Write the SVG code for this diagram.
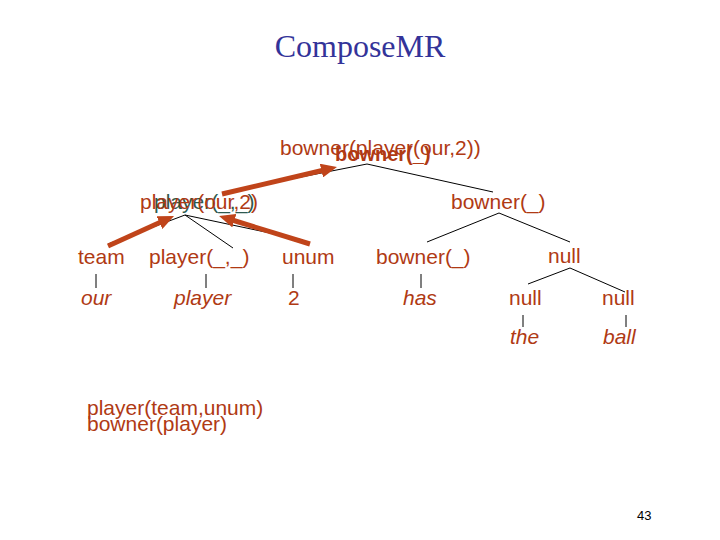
<svg xmlns="http://www.w3.org/2000/svg" width="720" height="540" viewBox="0 0 720 540">
<style>
.t{font-family:"Liberation Sans",Arial,sans-serif;font-size:21px;fill:#B03A14}
.b{font-weight:bold;font-size:20px}
.i{font-style:italic}
.ov{fill:#2E5A50}
.ln{stroke:#000;stroke-width:1;fill:none}
.ar{stroke:#C0441A;stroke-width:5;fill:none;marker-end:url(#ah)}
</style>
<defs>
<marker id="ah" markerUnits="userSpaceOnUse" markerWidth="16" markerHeight="14" viewBox="0 0 16 14" refX="4" refY="7" orient="auto">
<path d="M0,0 L16,7 L0,14 z" fill="#C0441A"/>
</marker>
</defs>
<rect width="720" height="540" fill="#fff"/>
<text x="360" y="57" text-anchor="middle" font-family="'Liberation Serif','Times New Roman',serif" font-size="32" fill="#333399">ComposeMR</text>
<g id="connectors">
<path class="ln" d="M367,164 L225,192 M367,164 L493,192"/>
<path class="ln" d="M185,215 L108,244 M185,215 L233,248 M185,215 L303,240"/>
<path class="ln" d="M499,213 L427,242 M499,213 L570,242"/>
<path class="ln" d="M570,268 L528,284 M570,268 L625,292"/>
<path class="ln" d="M96,274 V288 M206,274 V288 M293,274 V288 M421,274 V288 M523,315 V327 M626,315 V327"/>
</g>
<g id="root"><text class="t" x="280" y="155">bowner(player(our,2))</text><text class="t b" x="335" y="161">bowner(_)</text></g>
<g id="player"><text class="t ov" x="154" y="209">player(_,_)</text><text class="t" x="140" y="209">player(our,2)</text></g>
<g id="bowner1"><text class="t" x="451" y="209">bowner(_)</text></g>
<g id="team"><text class="t" x="78" y="264">team</text></g>
<g id="player2"><text class="t" x="149" y="264">player(_,_)</text></g>
<g id="unum"><text class="t" x="282" y="264">unum</text></g>
<g id="bowner2"><text class="t" x="376" y="264">bowner(_)</text></g>
<g id="null1"><text class="t" x="548" y="263">null</text></g>
<g id="our"><text class="t i" x="81" y="305">our</text></g>
<g id="playerw"><text class="t i" x="174" y="305">player</text></g>
<g id="two"><text class="t" x="288" y="305">2</text></g>
<g id="has"><text class="t i" x="403" y="305">has</text></g>
<g id="null2"><text class="t" x="509" y="305">null</text></g>
<g id="null3"><text class="t" x="602" y="305">null</text></g>
<g id="the"><text class="t i" x="510" y="344">the</text></g>
<g id="ball"><text class="t i" x="603" y="344">ball</text></g>
<g id="arrows">
<line class="ar" x1="108" y1="246" x2="163.1" y2="221"/>
<line class="ar" x1="310" y1="244" x2="230.5" y2="219.5"/>
<line class="ar" x1="222" y1="194" x2="325.3" y2="169.7"/>
</g>
<g id="legend"><text class="t" x="87" y="415">player(team,unum)</text><text class="t" x="87" y="431">bowner(player)</text></g>
<text x="637" y="520" font-family="'Liberation Sans',Arial,sans-serif" font-size="13" fill="#000">43</text>
</svg>
